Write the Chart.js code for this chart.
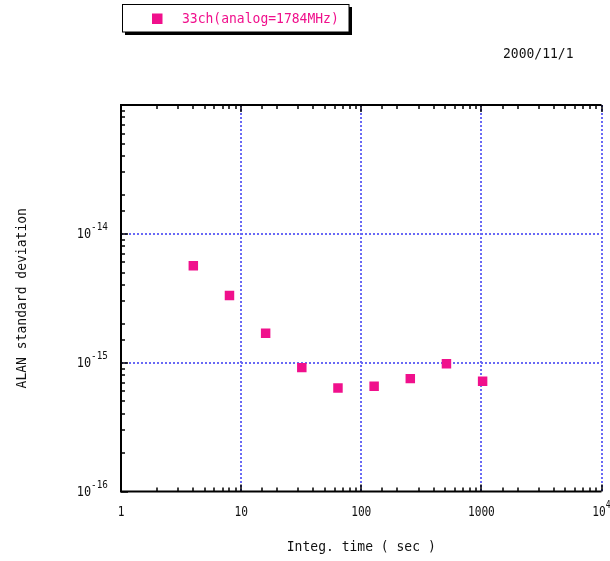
<!DOCTYPE html>
<html>
<head>
<meta charset="utf-8">
<script src="https://cdn.jsdelivr.net/npm/chart.js@4.4.0/dist/chart.umd.min.js"></script>
<style>
html, body { margin: 0; padding: 0; background: #fff; }
</style>
</head>
<body>
<canvas id="myChart" width="610" height="561"></canvas>
<script>
// du lieu doc tu hinh
const tau = [4, 8, 16, 32, 64, 128, 256, 512, 1024];
const adev = [5.65e-15, 3.32e-15, 1.69e-15, 9.15e-16, 6.37e-16, 6.56e-16, 7.52e-16, 9.8e-16, 7.17e-16];
const seriesName = '33ch(analog=1784MHz)';
const dateText = '2000/11/1';

// nhan truc
const xTickValues = [1, 10, 100, 1000, 10000];
const xTickText = ['1', '10', '100', '1000', '10'];
const xTickSup = ['', '', '', '', '4'];
const yTickValues = [1e-16, 1e-15, 1e-14];
const yTickText = ['10', '10', '10'];
const yTickSup = ['-16', '-15', '-14'];

const pink = 'rgb(240,16,140)';
const gridBlue = 'rgb(105,105,245)';
const mono = '"DejaVu Sans Mono", monospace';

function isMajor(v) {
        const l = Math.log10(v);
        return Math.abs(l - Math.round(l)) < 1e-6;
}

// chu hep va cao giong font goc
function textW(ctx, str, size, sx) {
        ctx.font = size + 'px ' + mono;
        return ctx.measureText(str).width * sx;
}
function drawText(ctx, str, x, y, size, sx, align) {
        ctx.save();
        ctx.font = size + 'px ' + mono;
        ctx.textAlign = align || 'left';
        ctx.translate(x, y);
        ctx.scale(sx, 1);
        ctx.fillText(str, 0, 0);
        ctx.restore();
}

// khung, vach chia, chu
const frame = {
        id: 'frame',
        afterDraw(chart) {
                const ctx = chart.ctx;
                const a = chart.chartArea;
                const xs = chart.scales.x;
                const ys = chart.scales.y;
                ctx.save();

                // vach chia phu
                ctx.strokeStyle = '#000';
                ctx.lineWidth = 1.5;
                ctx.beginPath();
                xs.ticks.forEach(t => {
                        const px = Math.round(xs.getPixelForValue(t.value));
                        const len = isMajor(t.value) ? 7 : 4;
                        ctx.moveTo(px, a.bottom); ctx.lineTo(px, a.bottom - len);
                        ctx.moveTo(px, a.top); ctx.lineTo(px, a.top + len);
                });
                ys.ticks.forEach(t => {
                        const py = Math.round(ys.getPixelForValue(t.value));
                        const len = isMajor(t.value) ? 7 : 4;
                        ctx.moveTo(a.left, py); ctx.lineTo(a.left + len, py);
                });
                ctx.stroke();

                // truc
                ctx.lineWidth = 2;
                ctx.beginPath();
                ctx.moveTo(a.right, a.top); ctx.lineTo(a.left, a.top);
                ctx.lineTo(a.left, a.bottom); ctx.lineTo(a.right, a.bottom);
                ctx.stroke();

                // nhan truc x
                ctx.fillStyle = '#111';
                ctx.textBaseline = 'alphabetic';
                xTickValues.forEach((v, i) => {
                        const px = xs.getPixelForValue(v);
                        const w1 = textW(ctx, xTickText[i], 14, 0.8);
                        const w2 = xTickSup[i] ? textW(ctx, xTickSup[i], 10, 0.8) : 0;
                        const x0 = px - (w1 + w2) / 2;
                        drawText(ctx, xTickText[i], x0, 516, 14, 0.8);
                        if (xTickSup[i]) {
                                drawText(ctx, xTickSup[i], x0 + w1, 508, 10, 0.8);
                        }
                });

                // nhan truc y
                yTickValues.forEach((v, i) => {
                        const py = ys.getPixelForValue(v);
                        const w2 = textW(ctx, yTickSup[i], 11, 0.85);
                        drawText(ctx, yTickSup[i], 108 - w2, py - 4, 11, 0.85);
                        drawText(ctx, yTickText[i], 108 - w2, py + 4, 14, 0.85, 'right');
                });

                // ten truc
                ctx.textBaseline = 'middle';
                drawText(ctx, 'Integ. time ( sec )', (a.left + a.right) / 2, 547, 14, 0.93, 'center');
                ctx.save();
                ctx.translate(22, (a.top + a.bottom) / 2);
                ctx.rotate(-Math.PI / 2);
                drawText(ctx, 'ALAN standard deviation', 0, 0, 14, 0.93, 'center');
                ctx.restore();

                // ngay
                drawText(ctx, dateText, 503, 54, 14, 0.93);

                // chu thich
                ctx.fillStyle = '#000';
                ctx.fillRect(125, 7, 227, 28);
                ctx.fillStyle = '#fff';
                ctx.fillRect(122, 4, 227, 28);
                ctx.strokeStyle = '#000';
                ctx.lineWidth = 1;
                ctx.strokeRect(122.5, 4.5, 226.5, 27.5);
                ctx.fillStyle = pink;
                ctx.fillRect(152, 13.5, 10.5, 10.5);
                drawText(ctx, seriesName, 182, 19, 14, 0.93);

                ctx.restore();
        }
};

const points = tau.map((t, i) => ({ x: t, y: adev[i] }));

const config = {
        type: 'scatter',
        data: {
                datasets: [{
                        label: seriesName,
                        data: points,
                        pointStyle: 'rect',
                        pointRadius: 6.7,
                        pointBorderWidth: 0,
                        backgroundColor: pink,
                        borderColor: pink
                }]
        },
        options: {
                responsive: false,
                animation: false,
                events: [],
                layout: { padding: { left: 121, top: 105, right: 8.5, bottom: 69.5 } },
                plugins: {
                        legend: { display: false },
                        tooltip: { enabled: false }
                },
                scales: {
                        x: {
                                type: 'logarithmic',
                                min: 1,
                                max: 10000,
                                ticks: { display: false, autoSkip: false },
                                grid: {
                                        drawTicks: false,
                                        lineWidth: 2,
                                        color: c => (isMajor(c.tick.value) && c.tick.value > 1) ? gridBlue : 'rgba(0,0,0,0)'
                                },
                                border: { display: false, dash: [2, 2] },
                                afterFit: s => { s.height = 0; s.paddingLeft = 0; s.paddingRight = 0; }
                        },
                        y: {
                                type: 'logarithmic',
                                min: 1e-16,
                                max: 1e-13,
                                ticks: { display: false, autoSkip: false },
                                grid: {
                                        drawTicks: false,
                                        lineWidth: 2,
                                        color: c => (isMajor(c.tick.value) && c.tick.value > 1.5e-16 && c.tick.value < 0.5e-13) ? gridBlue : 'rgba(0,0,0,0)'
                                },
                                border: { display: false, dash: [2, 2] },
                                afterFit: s => { s.width = 0; s.paddingTop = 0; s.paddingBottom = 0; }
                        }
                }
        },
        plugins: [frame]
};

const myChart = new Chart(document.getElementById('myChart'), config);
</script>
</body>
</html>
